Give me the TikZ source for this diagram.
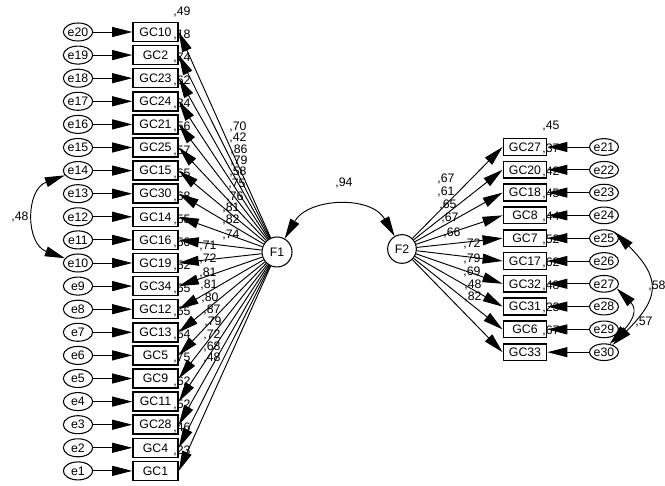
\documentclass[tikz,border=0pt]{standalone}
\usepackage{fontspec}
\setmainfont{Liberation Sans}
\usetikzlibrary{arrows.meta,shapes.geometric}

\begin{document}
\begin{tikzpicture}[
    x=0.03cm, y=0.03cm,
    font=\fontsize{10.5}{12}\selectfont,
    >={Triangle[length=6mm, width=3mm]},
    obs/.style   ={draw, line width=1.3pt, minimum width=13.5mm, minimum height=5.7mm,
                   inner sep=0pt},
    obsr/.style  ={obs, minimum width=13mm, minimum height=5mm},
    err/.style   ={draw, ellipse, line width=0.9pt, minimum width=8.8mm,
                   minimum height=5.4mm, inner sep=0pt},
    errr/.style  ={err, minimum width=8.2mm, minimum height=5mm},
    latent/.style={draw, circle, line width=0.9pt, minimum size=9mm, inner sep=0pt},
    est/.style   ={inner sep=0pt},
    regr/.style  ={->, line width=0.8pt},
    cov/.style   ={<->, line width=0.8pt}
]
\useasboundingbox (0,0) rectangle (665,486);

% --- The two factors. ---
\node[latent] (F1) at (277,234) {F1};
\node[latent, minimum size=8.6mm] (F2) at (402,237) {F2};

% --- Left column: indicators of F1, their residuals and R^2 values. ---
\foreach \gc/\en/\rsq [count=\row] in {GC10/e20/49, GC2/e19/18, GC23/e18/74,
    GC24/e17/62, GC21/e16/34, GC25/e15/56, GC15/e14/57, GC30/e13/65, GC14/e12/68,
    GC16/e11/55, GC19/e10/50, GC34/e9/52, GC12/e8/65, GC13/e7/65, GC5/e6/64,
    GC9/e5/75, GC11/e4/62, GC28/e3/52, GC4/e2/46, GC1/e1/23} {
  \pgfmathsetmacro{\rowy}{454-23.1*(\row-1)}
  \node[obs, alias=oL\row] (\gc) at (155.5,\rowy) {\gc};
  \node[err, alias=nL\row] (\en) at (78,\rowy) {\en};
  \node[est] (rL\row) at (182,\rowy+20) {,\rsq};
}

% --- Right column: indicators of F2. ---
\foreach \gc/\en/\rsq [count=\row] in {GC27/e21/45, GC20/e22/37, GC18/e23/42,
    GC8/e24/45, GC7/e25/44, GC17/e26/52, GC32/e27/62, GC31/e28/48, GC6/e29/23,
    GC33/e30/67} {
  \pgfmathsetmacro{\rowy}{339-22.8*(\row-1)}
  \node[obsr, alias=oR\row] (\gc) at (525,\rowy) {\gc};
  \node[errr, alias=nR\row] (\en) at (604,\rowy) {\en};
  \node[est] (rR\row) at (551,\rowy+21) {,\rsq};
}

% --- Standardised loadings, stacked next to the factors. ---
\foreach \val/\lx/\ly [count=\row] in {70/238/359, 42/238/348, 86/239/336,
    79/239/325, 58/238/314, 75/237/302, 76/235/289, 81/231/278, 82/231/266,
    74/231/251, 71/208/240, 72/208/227, 81/208/213, 81/209/201, 80/210/188,
    87/212/176, 79/213/164, 72/212/151, 68/212/139, 48/212/128}
  \node[est] (wL\row) at (\lx,\ly) {,\val};
\foreach \val/\lx/\ly [count=\row] in {67/446/307, 61/446/294, 65/448/281,
    67/450/268, 66/452/253, 72/472/242, 79/472/227, 69/472/214, 48/473/201,
    82/473/189}
  \node[est] (wR\row) at (\lx,\ly) {,\val};

% --- Paths: residual -> indicator, factor -> indicator. ---
\foreach \row in {1,...,20} {
  \draw[regr] (nL\row) -- (oL\row);
  \draw[regr] (F1) -- (oL\row.east);
}
\foreach \row in {1,...,10} {
  \draw[regr] (nR\row) -- (oR\row);
  \draw[regr] (F2) -- (oR\row.west);
}

% --- Covariances. ---
\draw[cov] (F1) to[out=60, in=120, looseness=1.1] (F2);
\node[est] (cF) at (344,303) {,94};

\draw[cov] (e14) to[out=200, in=160, looseness=1.3] (e10);
\node[est] (cL) at (20,269) {,48};

\draw[cov] (e25.30) to[out=-45, in=45, looseness=1.5] (e30.40);
\draw[cov] (e27.-20) to[out=-45, in=45, looseness=1.4] (e30.55);
\node[est] (c58) at (657,200) {,58};
\node[est] (c57) at (644,164) {,57};

\end{tikzpicture}
\end{document}
